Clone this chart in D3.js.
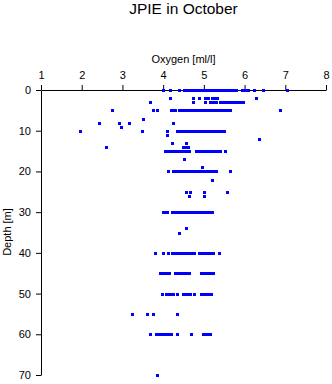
<!DOCTYPE html>
<html><head><meta charset="utf-8">
<script src="https://cdn.jsdelivr.net/npm/d3@7"></script>
<style>body{margin:0;background:#fff}svg{display:block}text{font-family:"Liberation Sans",Arial,sans-serif}</style>
</head><body>
<script>
const title = "JPIE in October";
const xLabel = "Oxygen [ml/l]";
const yLabel = "Depth [m]";
const xTicks = [1,2,3,4,5,6,7,8];
const yTicks = [0,10,20,30,40,50,60,70];

const depths = [0,2,3,5,7,8,9,10,11,12,13,14,15,17,19,20,22,25,26,30,34,35,40,45,50,55,60,70];
const oxygen = [
  [4.00,4.18,4.40,4.51,4.57,4.63,4.69,4.75,4.81,4.87,4.93,4.99,5.05,5.11,5.17,5.23,5.29,5.35,5.41,5.47,5.53,5.59,5.65,5.69,5.74,5.80,5.93,5.98,6.03,6.09,6.23,6.45,7.03],
  [4.18,4.74,4.87,5.03,5.08,5.11,5.19,5.25,5.32,6.27],
  [3.67,4.74,5.03,5.15,5.22,5.29,5.40,5.47,5.54,5.60,5.66,5.72,5.78,5.84,5.89,5.96],
  [2.75,3.75,3.86,4.20,4.25,4.29,4.38,4.44,4.50,4.56,4.62,4.68,4.74,4.80,4.86,4.92,4.98,5.04,5.10,5.16,5.22,5.28,5.34,5.40,5.46,5.52,5.58,5.63,6.86],
  [3.50],
  [2.42,2.92,3.15,4.25],
  [2.97],
  [1.97,3.49,4.10,4.34,4.40,4.46,4.52,4.58,4.64,4.70,4.76,4.82,4.88,4.94,5.00,5.06,5.12,5.18,5.24,5.30,5.36,5.42,5.47,5.50],
  [4.09],
  [6.35],
  [4.22,4.57],
  [2.60,4.48,4.54,4.60],
  [4.05,4.10,4.15,4.21,4.29,4.35,4.42,4.48,4.54,4.60,4.64,4.81,4.87,4.93,4.99,5.05,5.11,5.17,5.23,5.29,5.35,5.40,5.52],
  [4.52],
  [4.96],
  [4.13,4.25,4.31,4.37,4.43,4.49,4.55,4.61,4.67,4.73,4.79,4.85,4.91,4.97,5.03,5.09,5.15,5.21,5.27,5.30,5.65],
  [5.21],
  [4.55,4.66,5.00,5.57],
  [4.64,5.01],
  [4.00,4.05,4.10,4.21,4.27,4.33,4.39,4.45,4.51,4.57,4.63,4.69,4.75,4.81,4.87,4.93,4.99,5.05,5.11,5.13,5.19],
  [4.57],
  [4.39],
  [3.80,3.99,4.13,4.21,4.27,4.33,4.39,4.45,4.51,4.57,4.63,4.69,4.75,4.77,4.87,4.95,5.01,5.07,5.13,5.19,5.23,5.36],
  [3.92,3.98,4.04,4.10,4.15,4.28,4.34,4.39,4.46,4.52,4.58,4.64,4.93,4.99,5.05,5.11,5.17,5.22],
  [3.98,4.06,4.15,4.20,4.25,4.33,4.49,4.55,4.61,4.66,4.77,4.93,4.99,5.05,5.11,5.17],
  [3.24,3.61,3.76,4.35],
  [3.68,3.82,3.91,3.97,4.03,4.09,4.15,4.19,4.33,4.69,4.99,5.05,5.10,5.15],
  [3.85]
];

const W = 332, H = 384;
const svg = d3.select("body").append("svg").attr("width", W).attr("height", H);
const x = d3.scaleLinear().domain([1,8]).range([41,326]);
const y = d3.scaleLinear().domain([0,70]).range([90,375]);

svg.append("text").attr("x", 183.5).attr("y", 14).attr("text-anchor","middle")
  .attr("font-size", 15.5).text(title);
svg.append("text").attr("x", 183.5).attr("y", 63).attr("text-anchor","middle")
  .attr("font-size", 11).text(xLabel);
svg.append("text").attr("transform","translate(11,232) rotate(-90)").attr("text-anchor","middle")
  .attr("font-size", 11).text(yLabel);

const xAxis = d3.axisTop(x).tickValues(xTicks).tickFormat(d3.format("d")).tickSize(5).tickSizeOuter(0).tickPadding(6);
const gx = svg.append("g").attr("transform","translate(0,90)").call(xAxis);
const yAxis = d3.axisLeft(y).tickValues(yTicks).tickFormat(d3.format("d")).tickSize(5).tickSizeOuter(0).tickPadding(5);
const gy = svg.append("g").attr("transform","translate(41,0)").call(yAxis);
[gx, gy].forEach(g => {
  g.select(".domain").attr("stroke","#000").attr("stroke-width",1);
  g.selectAll(".tick line").attr("stroke","#000");
  g.selectAll("text").attr("font-size", 11).attr("fill","#000")
    .attr("font-family","'Liberation Sans',Arial,sans-serif");
});

const pts = [];
depths.forEach((d,i) => oxygen[i].forEach(v => pts.push({d, v})));
svg.append("g").attr("shape-rendering","crispEdges").selectAll("rect").data(pts).join("rect")
  .attr("x", p => Math.round(x(p.v)) - 1)
  .attr("y", p => Math.round(y(p.d)) - 1)
  .attr("width", 3).attr("height", 3)
  .attr("fill", "#0000ff");
</script>
</body></html>
